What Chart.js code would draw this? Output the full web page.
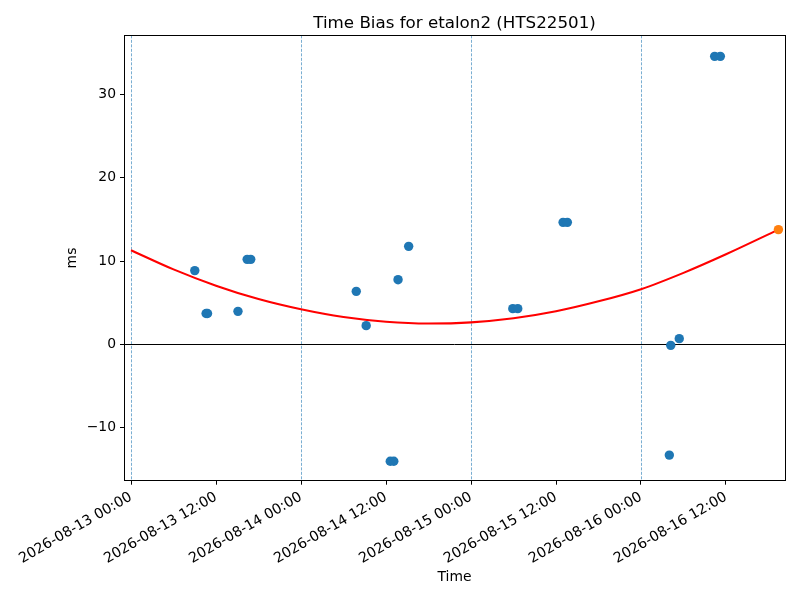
<!DOCTYPE html>
<html>
<head>
<meta charset="utf-8">
<script src="https://cdn.jsdelivr.net/npm/chart.js@4"></script>
<style>
  html, body { margin: 0; padding: 0; background: #fff; }
  #biasChart { display: block; }
</style>
</head>
<body>
<canvas id="biasChart" width="800" height="600"></canvas>
<script>
// hours since 2026-08-13 00:00
const biasHours = [9.0, 10.6, 10.8, 15.1, 16.4, 16.9, 31.8, 33.2, 36.6, 37.1, 37.7, 39.2,
                   53.9, 54.6, 61.0, 61.6, 76.0, 76.2, 77.4, 82.4, 83.2];
const biasMs = [8.85, 3.7, 3.7, 3.96, 10.2, 10.2, 6.36, 2.24, -14.04, -14.04, 7.76, 11.76,
                4.28, 4.28, 14.64, 14.64, -13.3, -0.12, 0.68, 34.57, 34.57];

const latestHours = [91.4];
const latestMs = [13.77];

const fitHours = [0, 6, 12, 18, 24, 30, 36, 42, 48, 54, 60, 66, 72, 78, 84, 91.4];
const fitMs = [11.3, 9.0, 7.04, 5.43, 4.2, 3.27, 2.71, 2.5, 2.64, 3.13, 3.97, 5.16, 6.62, 8.58, 10.81, 13.77];

const xTickHours = [0, 12, 24, 36, 48, 60, 72, 84];
const xTickLabels = ['2026-08-13 00:00', '2026-08-13 12:00', '2026-08-14 00:00', '2026-08-14 12:00',
                     '2026-08-15 00:00', '2026-08-15 12:00', '2026-08-16 00:00', '2026-08-16 12:00'];
const midnightHours = [0, 24, 48, 72];
const yTicks = [-10, 0, 10, 20, 30];

const FONT = 'DejaVu Sans';

function toPoints(xs, ys) {
    return xs.map((x, i) => ({ x: x, y: ys[i] }));
}

// dashed day lines, zero line and the full box around the plot
const framePlugin = {
    id: 'frame',
    beforeDatasetsDraw(chart) {
        const ctx = chart.ctx;
        const area = chart.chartArea;
        const xs = chart.scales.x;
        const ys = chart.scales.y;
        ctx.save();
        ctx.strokeStyle = 'rgba(31,119,180,0.75)';
        ctx.lineWidth = 0.8;
        ctx.setLineDash([3, 1.5]);
        midnightHours.forEach((h) => {
            const px = Math.round(xs.getPixelForValue(h)) + 0.5;
            ctx.beginPath();
            ctx.moveTo(px, area.top);
            ctx.lineTo(px, area.bottom);
            ctx.stroke();
        });
        ctx.setLineDash([]);
        ctx.strokeStyle = '#000';
        ctx.lineWidth = 1;
        const py = Math.round(ys.getPixelForValue(0)) + 0.5;
        ctx.beginPath();
        ctx.moveTo(area.left, py);
        ctx.lineTo(area.right, py);
        ctx.stroke();
        ctx.restore();
    },
    afterDraw(chart) {
        const ctx = chart.ctx;
        const a = chart.chartArea;
        ctx.save();
        ctx.strokeStyle = '#000';
        ctx.lineWidth = 1;
        ctx.strokeRect(Math.round(a.left) + 0.5, Math.round(a.top) + 0.5,
            Math.round(a.right - a.left), Math.round(a.bottom - a.top));
        ctx.restore();
    }
};

const tickFont = { family: FONT, size: 13.9 };

new Chart(document.getElementById('biasChart'), {
    type: 'scatter',
    data: {
        datasets: [
            {
                label: 'latest',
                data: toPoints(latestHours, latestMs),
                backgroundColor: '#ff7f0e',
                borderWidth: 0,
                pointRadius: 4.7
            },
            {
                label: 'bias',
                data: toPoints(biasHours, biasMs),
                backgroundColor: '#1f77b4',
                borderWidth: 0,
                pointRadius: 4.7
            },
            {
                label: 'fit',
                data: toPoints(fitHours, fitMs),
                showLine: true,
                borderColor: '#ff0000',
                borderWidth: 2.1,
                pointRadius: 0,
                cubicInterpolationMode: 'monotone',
                fill: false
            }
        ]
    },
    options: {
        responsive: false,
        animation: false,
        devicePixelRatio: 1,
        layout: { padding: { left: 0, right: 15, top: 0, bottom: 0 } },
        plugins: {
            legend: { display: false },
            tooltip: { enabled: false },
            title: {
                display: true,
                text: 'Time Bias for etalon2 (HTS22501)',
                color: '#000',
                fullSize: false,
                font: { family: FONT, size: 16.7, weight: 'normal' },
                padding: { top: 14, bottom: 1.3 }
            }
        },
        scales: {
            x: {
                type: 'linear',
                min: -0.99,
                max: 92.33,
                afterBuildTicks: (s) => { s.ticks = xTickHours.map((v) => ({ value: v })); },
                afterFit: (s) => { s.height = 119.3; },
                ticks: {
                    callback: (v) => xTickLabels[xTickHours.indexOf(v)],
                    minRotation: 30,
                    maxRotation: 30,
                    autoSkip: false,
                    color: '#000',
                    font: { family: FONT, size: 14.2 },
                    padding: 4
                },
                grid: { drawOnChartArea: false, drawTicks: true, tickLength: 4, tickColor: '#000' },
                border: { color: '#000', width: 1 },
                title: {
                    display: true,
                    text: 'Time',
                    color: '#000',
                    font: { family: FONT, size: 13.9 },
                    padding: { top: 0, bottom: 14 }
                }
            },
            y: {
                type: 'linear',
                min: -16.37,
                max: 37.09,
                afterBuildTicks: (s) => { s.ticks = yTicks.map((v) => ({ value: v })); },
                afterFit: (s) => { s.width = 124; },
                ticks: {
                    callback: (v) => (v < 0 ? '\u2212' + Math.abs(v) : String(v)),
                    color: '#000',
                    font: tickFont,
                    padding: 4
                },
                grid: { drawOnChartArea: false, drawTicks: true, tickLength: 4, tickColor: '#000' },
                border: { color: '#000', width: 1 },
                title: {
                    display: true,
                    text: 'ms',
                    color: '#000',
                    font: { family: FONT, size: 13.9 },
                    padding: { top: 64, bottom: 0 }
                }
            }
        }
    },
    plugins: [framePlugin]
});
</script>
</body>
</html>
